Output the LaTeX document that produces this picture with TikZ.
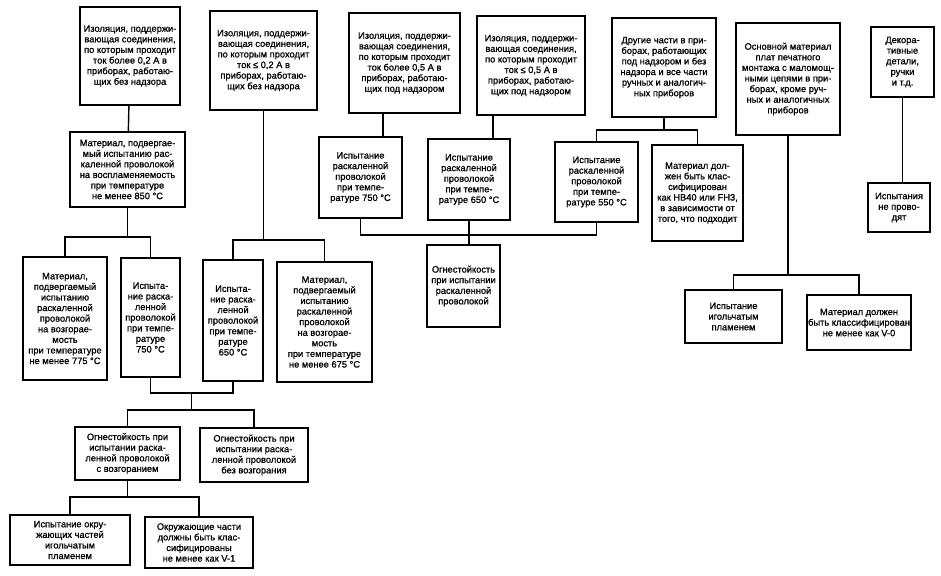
\documentclass[tikz,border=0pt]{standalone}
\usepackage{fontspec}
\setmainfont[FakeBold=1]{Liberation Sans}
\begin{document}
\begin{tikzpicture}[x=1pt,y=-1pt,
  box/.style={draw, line width=1.3pt, align=center, inner sep=1pt,
    font=\fontsize{9.3}{10.6}\selectfont},
  line/.style={line width=1.4pt}]
\useasboundingbox (0,0) rectangle (941,575);
% top row
\node[box, minimum width=100pt, minimum height=98pt] (iso1) at (130,56) {Изоляция, поддержи-\\вающая соединения,\\по которым проходит\\ток более 0,2 А в\\приборах, работаю-\\щих без надзора};
\node[box, minimum width=107pt, minimum height=99pt] (iso2) at (263.5,60.5) {Изоляция, поддержи-\\вающая соединения,\\по которым проходит\\ток ≤ 0,2 А в\\приборах, работаю-\\щих без надзора};
\node[box, minimum width=111pt, minimum height=100pt] (iso3) at (404.5,63) {Изоляция, поддержи-\\вающая соединения,\\по которым проходит\\ток более 0,5 А в\\приборах, работаю-\\щих под надзором};
\node[box, minimum width=108pt, minimum height=99pt] (iso4) at (531,65.5) {Изоляция, поддержи-\\вающая соединения,\\по которым проходит\\ток ≤ 0,5 А в\\приборах, работаю-\\щих под надзором};
\node[box, minimum width=104pt, minimum height=99pt] (other) at (664,67.5) {Другие части в при-\\борах, работающих\\под надзором и без\\надзора и все части\\ручных и аналогич-\\ных приборов};
\node[box, minimum width=104pt, minimum height=112pt] (pcb) at (788,79) {Основной материал\\плат печатного\\монтажа с маломощ-\\ными цепями в при-\\борах, кроме руч-\\ных и аналогичных\\приборов};
\node[box, minimum width=63pt, minimum height=70pt] (decor) at (902.5,62) {Декора-\\тивные\\детали,\\ручки\\и т.д.};
% left branch
\node[box, minimum width=115pt, minimum height=75pt] (mat850) at (127.5,169.5) {Материал, подвергае-\\мый испытанию рас-\\каленной проволокой\\на воспламеняемость\\при температуре\\не менее 850 °C};
\node[box, minimum width=84pt, minimum height=123pt] (mat775) at (65,318.5) {Материал,\\подвергаемый\\испытанию\\раскаленной\\проволокой\\на возгорае-\\мость\\при температуре\\не менее 775 °C};
\node[box, minimum width=59pt, minimum height=119pt] (gw750a) at (150.5,317.5) {Испыта-\\ние раска-\\ленной\\проволокой\\при темпе-\\ратуре\\750 °C};
\node[box, minimum width=60pt, minimum height=121pt] (gw650a) at (233,320.5) {Испыта-\\ние раска-\\ленной\\проволокой\\при темпе-\\ратуре\\650 °C};
\node[box, minimum width=95pt, minimum height=120pt] (mat675) at (324.5,322) {Материал,\\подвергаемый\\испытанию\\раскаленной\\проволокой\\на возгорае-\\мость\\при температуре\\не менее 675 °C};
\node[box, minimum width=105pt, minimum height=53pt] (fire1) at (127.5,453.5) {Огнестойкость при\\испытании раска-\\ленной проволокой\\с возгоранием};
\node[box, minimum width=108pt, minimum height=54pt] (fire2) at (254,455) {Огнестойкость при\\испытании раска-\\ленной проволокой\\без возгорания};
\node[box, minimum width=120pt, minimum height=50pt] (needle1) at (70,540) {Испытание окру-\\жающих частей\\игольчатым\\пламенем};
\node[box, minimum width=108pt, minimum height=51pt] (class1) at (199,542.5) {Окружающие части\\должны быть клас-\\сифицированы\\не менее как V-1};
% middle branch
\node[box, minimum width=83pt, minimum height=81pt] (gw750) at (360.5,177.5) {Испытание\\раскаленной\\проволокой\\при темпе-\\ратуре 750 °C};
\node[box, minimum width=82pt, minimum height=81pt] (gw650) at (469,179.5) {Испытание\\раскаленной\\проволокой\\при темпе-\\ратуре 650 °C};
\node[box, minimum width=83pt, minimum height=80pt] (gw550) at (596.5,182) {Испытание\\раскаленной\\проволокой\\при темпе-\\ратуре 550 °C};
\node[box, minimum width=91pt, minimum height=96pt] (class2) at (697.5,193) {Материал дол-\\жен быть клас-\\сифицирован\\как HB40 или FH3,\\в зависимости от\\того, что подходит};
\node[box, minimum width=73pt, minimum height=82pt] (fire3) at (463.5,286) {Огнестойкость\\при испытании\\раскаленной\\проволокой};
% right branch
\node[box, minimum width=97pt, minimum height=53pt] (needle2) at (733.5,316.5) {Испытание\\игольчатым\\пламенем};
\node[box, minimum width=102pt, minimum height=55pt] (class3) at (859,322.5) {Материал должен\\быть классифицирован\\не менее как V-0};
\node[box, minimum width=62pt, minimum height=49pt] (notest) at (899,207.5) {Испытания\\не прово-\\дят};
% joints
\coordinate (j1) at (127.5,237);
\coordinate (j2) at (263.5,240);
\coordinate (j3) at (191.75,393);
\coordinate (j4) at (191.75,410);
\coordinate (j5) at (127.5,497);
\coordinate (j6) at (469,235);
\coordinate (j7) at (664,130);
\coordinate (j8) at (788,275);
% connectors
\draw[line] (iso1) -- (mat850);
\draw[line] (mat850) -- (j1);
\draw[line] (mat775.north) |- (j1) -| (gw750a.north);
\draw[line] (iso2) -- (j2);
\draw[line] (gw650a.north) |- (j2) -| (mat675.north);
\draw[line] (gw750a.south) |- (j3) -| (gw650a.south);
\draw[line] (j3) -- (j4);
\draw[line] (fire1.north) |- (j4) -| (fire2.north);
\draw[line] (fire1) -- (j5);
\draw[line] (needle1.north) |- (j5) -| (class1.north);
\draw[line] ([xshift=-21.5pt]iso3.south) -- ([xshift=-21.5pt]iso3.south |- gw750.north);
\draw[line] ([xshift=-38pt]iso4.south) -- ([xshift=-38pt]iso4.south |- gw650.north);
\draw[line] (gw750.south) |- (j6) -| (gw550.south);
\draw[line] (gw650.south) -- (gw650.south |- fire3.north);
\draw[line] (other) -- (j7);
\draw[line] (gw550.north) |- (j7) -| (class2.north);
\draw[line] (pcb) -- (j8);
\draw[line] (needle2.north) |- (j8) -| (class3.north);
\draw[line] (decor.south) -- (decor.south |- notest.north);
\end{tikzpicture}
\end{document}
